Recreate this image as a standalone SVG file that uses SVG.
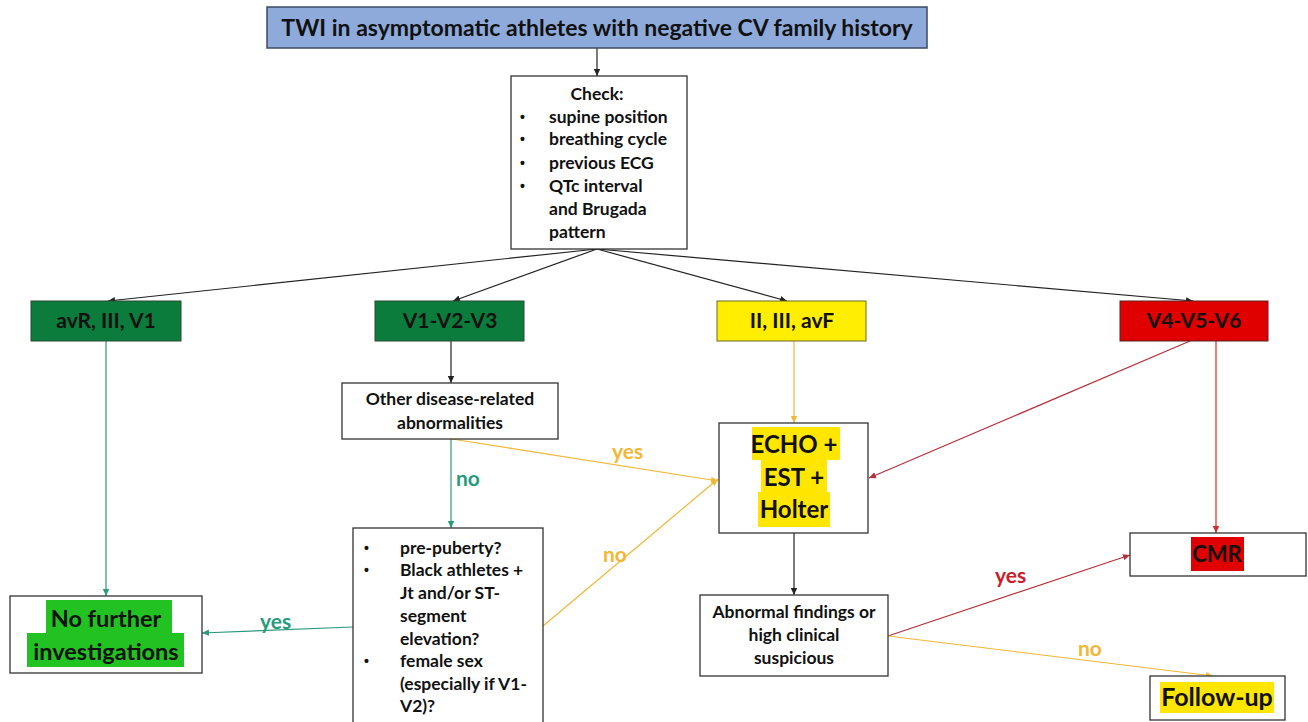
<svg xmlns="http://www.w3.org/2000/svg" width="1308" height="722" viewBox="0 0 1308 722">
<style>
  text { font-family: Lato, "Liberation Sans", Arial, sans-serif; font-weight: bold; fill: #111; }
  .box { fill: #ffffff; stroke: #333; stroke-width: 1.3; }
  .c { text-anchor: middle; }
  .t15 { font-size: 17.5px; }
  .t16 { font-size: 17.5px; }
  .t17 { font-size: 21px; }
  .big { font-size: 24px; }
  .bul { font-family: "Liberation Sans", Arial, sans-serif; font-size: 14px; }
  .ln { fill: none; stroke-width: 1.2; }
  .k { stroke: #222; }
  .g { stroke: #2a9a7c; }
  .o { stroke: #f2b735; }
  .r { stroke: #d42a2a; }
  .dr { stroke: #b8303a; }
  .lg { fill: #2a9a7c; font-size: 21px; }
  .lo { fill: #f2b735; font-size: 21px; }
  .lr { fill: #c8202a; font-size: 21px; }
</style>
<defs>
  <marker id="ak" markerWidth="8" markerHeight="8" refX="7" refY="4" orient="auto" markerUnits="userSpaceOnUse"><path d="M0,0.8 L7,4 L0,7.2 Z" fill="#222"/></marker>
  <marker id="ag" markerWidth="8" markerHeight="8" refX="7" refY="4" orient="auto" markerUnits="userSpaceOnUse"><path d="M0,0.8 L7,4 L0,7.2 Z" fill="#2a9a7c"/></marker>
  <marker id="ao" markerWidth="8" markerHeight="8" refX="7" refY="4" orient="auto" markerUnits="userSpaceOnUse"><path d="M0,0.8 L7,4 L0,7.2 Z" fill="#f2b735"/></marker>
  <marker id="ar" markerWidth="8" markerHeight="8" refX="7" refY="4" orient="auto" markerUnits="userSpaceOnUse"><path d="M0,0.8 L7,4 L0,7.2 Z" fill="#d42a2a"/></marker>
  <marker id="adr" markerWidth="8" markerHeight="8" refX="7" refY="4" orient="auto" markerUnits="userSpaceOnUse"><path d="M0,0.8 L7,4 L0,7.2 Z" fill="#b8303a"/></marker>
</defs>
<rect width="1308" height="722" fill="#ffffff"/>

<g id="connectors">
  <line class="ln k" x1="597" y1="48" x2="597" y2="76" marker-end="url(#ak)"/>
  <line class="ln k" x1="597" y1="249" x2="108" y2="301" marker-end="url(#ak)"/>
  <line class="ln k" x1="597" y1="249" x2="453" y2="301" marker-end="url(#ak)"/>
  <line class="ln k" x1="597" y1="249" x2="787" y2="301" marker-end="url(#ak)"/>
  <line class="ln k" x1="597" y1="249" x2="1193" y2="301" marker-end="url(#ak)"/>
  <line class="ln g" x1="106" y1="341" x2="106" y2="596" marker-end="url(#ag)"/>
  <line class="ln k" x1="451" y1="341" x2="451" y2="383" marker-end="url(#ak)"/>
  <line class="ln g" x1="451" y1="439" x2="451" y2="528" marker-end="url(#ag)"/>
  <line class="ln g" x1="353" y1="627" x2="202" y2="633" marker-end="url(#ag)"/>
  <line class="ln o" x1="452" y1="439" x2="718" y2="481" marker-end="url(#ao)"/>
  <line class="ln o" x1="543" y1="626" x2="718" y2="479" marker-end="url(#ao)"/>
  <line class="ln o" x1="794" y1="341" x2="794" y2="423" marker-end="url(#ao)"/>
  <line class="ln dr" x1="1190" y1="341" x2="869" y2="478" marker-end="url(#adr)"/>
  <line class="ln r" x1="1216" y1="341" x2="1216" y2="533" marker-end="url(#ar)"/>
  <line class="ln k" x1="794" y1="533" x2="794" y2="595" marker-end="url(#ak)"/>
  <line class="ln dr" x1="888" y1="636" x2="1130" y2="555" marker-end="url(#adr)"/>
  <line class="ln o" x1="888" y1="636" x2="1213" y2="676" marker-end="url(#ao)"/>
  <text class="lg" x="456" y="486">no</text>
  <text class="lg" x="260" y="629">yes</text>
  <text class="lo" x="612" y="459">yes</text>
  <text class="lo" x="603" y="562">no</text>
  <text class="lr" x="995" y="583">yes</text>
  <text class="lo" x="1078" y="656">no</text>
</g>

<g id="title">
  <rect x="267" y="7" width="660" height="41" fill="#8eaadb" stroke="#3b4a66" stroke-width="1.5"/>
  <text class="c" x="597" y="36" font-size="23">TWI in asymptomatic athletes with negative CV family history</text>
</g>

<g id="check">
  <rect class="box" x="511" y="76" width="176" height="173"/>
  <text class="c t15" x="597" y="100">Check:</text>
  <text class="bul" x="520" y="122">•</text><text class="t15" x="549" y="123">supine position</text>
  <text class="bul" x="520" y="144">•</text><text class="t15" x="549" y="145">breathing cycle</text>
  <text class="bul" x="520" y="168">•</text><text class="t15" x="549" y="169">previous ECG</text>
  <text class="bul" x="520" y="191">•</text><text class="t15" x="549" y="192">QTc interval</text>
  <text class="t15" x="549" y="215">and Brugada</text>
  <text class="t15" x="549" y="238">pattern</text>
</g>

<g id="avr">
  <rect x="31" y="301" width="150" height="40" fill="#0b7c3b" stroke="#2d4a33" stroke-width="1"/>
  <text class="c t17" x="106" y="328">avR, III, V1</text>
</g>

<g id="v1v2v3">
  <rect x="375" y="301" width="149" height="40" fill="#0b7c3b" stroke="#2d4a33" stroke-width="1"/>
  <text class="c t17" x="450" y="328">V1-V2-V3</text>
</g>

<g id="inferior">
  <rect x="717" y="301" width="149" height="40" fill="#ffee00" stroke="#6b6b2a" stroke-width="1"/>
  <text class="c t17" x="792" y="328">II, III, avF</text>
</g>

<g id="lateral">
  <rect x="1120" y="301" width="148" height="40" fill="#e00000" stroke="#5a2222" stroke-width="1"/>
  <text class="c t17" x="1194" y="328">V4-V5-V6</text>
</g>

<g id="other">
  <rect class="box" x="342" y="383" width="216" height="56"/>
  <text class="c t15" x="450" y="405">Other disease-related</text>
  <text class="c t15" x="450" y="429">abnormalities</text>
</g>

<g id="prepuberty">
  <rect class="box" x="353" y="528" width="190" height="200"/>
  <text class="bul" x="364" y="553">•</text><text class="t16" x="400" y="554">pre-puberty?</text>
  <text class="bul" x="364" y="575">•</text><text class="t16" x="400" y="576">Black athletes +</text>
  <text class="t16" x="400" y="599">Jt and/or ST-</text>
  <text class="t16" x="400" y="622">segment</text>
  <text class="t16" x="400" y="645">elevation?</text>
  <text class="bul" x="364" y="666">•</text><text class="t16" x="400" y="667">female sex</text>
  <text class="t16" x="400" y="690">(especially if V1-</text>
  <text class="t16" x="400" y="712">V2)?</text>
</g>

<g id="nofurther">
  <rect class="box" x="10" y="596" width="192" height="77"/>
  <rect x="46" y="600" width="126" height="34" fill="#22c222"/>
  <rect x="27" y="633" width="157" height="34" fill="#22c222"/>
  <text class="c" x="106" y="627" font-size="23.5">No further</text>
  <text class="c" x="106" y="660" font-size="23.5">investigations</text>
</g>

<g id="echo">
  <rect class="box" x="719" y="423" width="149" height="110"/>
  <rect x="752" y="427" width="88" height="33" fill="#ffe600"/>
  <rect x="761" y="459" width="66" height="34" fill="#ffe600"/>
  <rect x="758" y="492" width="72" height="35" fill="#ffe600"/>
  <text class="c big" x="794" y="453">ECHO +</text>
  <text class="c big" x="794" y="486">EST +</text>
  <text class="c big" x="794" y="518">Holter</text>
</g>

<g id="abnormal">
  <rect class="box" x="700" y="595" width="188" height="81"/>
  <text class="c t15" x="794" y="618">Abnormal findings or</text>
  <text class="c t15" x="794" y="641">high clinical</text>
  <text class="c t15" x="794" y="664">suspicious</text>
</g>

<g id="cmr">
  <rect class="box" x="1130" y="533" width="176" height="43"/>
  <rect x="1191" y="537" width="53" height="34" fill="#e00000"/>
  <text class="c" x="1217" y="562" font-size="22">CMR</text>
</g>

<g id="followup">
  <rect class="box" x="1150" y="676" width="135" height="44"/>
  <rect x="1160" y="682" width="114" height="31" fill="#ffe600"/>
  <text class="c" x="1217" y="706" font-size="25">Follow-up</text>
</g>
</svg>
